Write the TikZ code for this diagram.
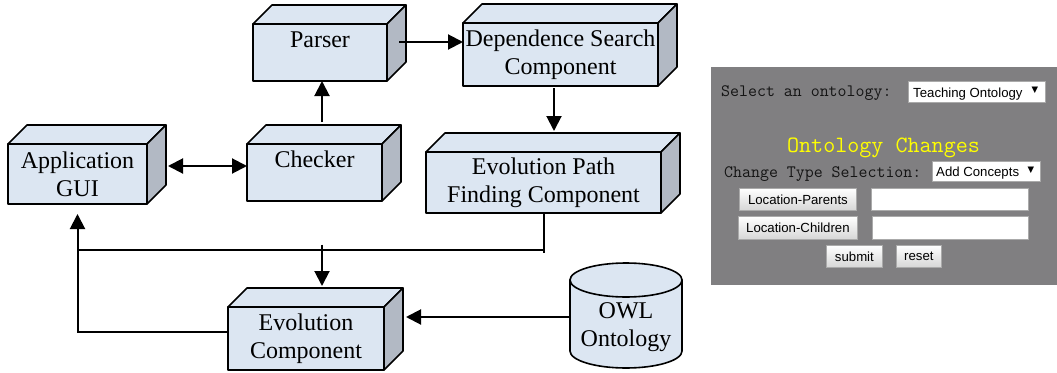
\documentclass[tikz,border=0pt]{standalone}
\usepackage{fontspec}
\setmainfont{Liberation Serif}
\newfontfamily\uisans{Liberation Sans}
\newfontfamily\uimono{Latin Modern Mono}
\newfontfamily\symfont{DejaVu Sans}
\usetikzlibrary{arrows.meta,calc}

\definecolor{boxfront}{RGB}{220,230,242}
\definecolor{boxside}{RGB}{178,185,196}
\definecolor{panelgray}{RGB}{128,127,129}
\definecolor{uitext}{RGB}{20,20,20}
\definecolor{uiyellow}{RGB}{255,255,0}
\definecolor{btnborder}{RGB}{170,170,170}

% draws the top and right faces of a 3D box around node #1
\newcommand\cubefaces[1]{%
  \filldraw[boxline, fill=boxfront] (#1.north west) -- ++(19,-19)
     -- ([shift={(19,-19)}]#1.north east) -- (#1.north east) -- cycle;
  \filldraw[boxline, fill=boxside] (#1.north east) -- ++(19,-19)
     -- ([shift={(19,-19)}]#1.south east) -- (#1.south east) -- cycle;
}

\begin{document}
\begin{tikzpicture}[x=1pt,y=-1pt,
  boxline/.style={line width=1.6pt, line join=round},
  box/.style={boxline, draw, fill=boxfront, align=center, inner sep=0pt,
    outer sep=0pt, font=\fontsize{24}{28}\selectfont},
  arr/.style={line width=2pt, -{Triangle[length=15pt,width=15pt]}},
  arrboth/.style={line width=2pt, {Triangle[length=15pt,width=15pt]}-{Triangle[length=15pt,width=15pt]}},
  wire/.style={line width=2pt},
  monotxt/.style={font=\uimono\fontsize{17.4}{19}\selectfont, text=uitext, inner sep=0pt},
  sanstxt/.style={font=\uisans\fontsize{13.2}{15}\selectfont, text=black, inner sep=0pt},
  dropdown/.style={draw=btnborder, line width=0.8pt, fill=white, inner sep=0pt, anchor=north west},
  field/.style={draw=btnborder, line width=0.8pt, fill=white, inner sep=0pt, anchor=north west},
  uibtn/.style={draw=btnborder, line width=0.8pt, top color=white, bottom color=white!84!black,
    sanstxt, anchor=north west},
  arrowglyph/.style={font=\symfont\fontsize{8.5}{10}\selectfont, text=black, inner sep=0pt}
]
\useasboundingbox (0,0) rectangle (1057,372);

% ---------- component boxes ----------
\node[box, minimum width=134pt, minimum height=57pt] (parser) at (320,52.5) {Parser\\[-10pt]\strut};
\node[box, minimum width=139pt, minimum height=60pt] (gui) at (77.5,174) {Application\\GUI};
\node[box, minimum width=135pt, minimum height=57pt] (checker) at (314.5,172.5) {Checker\\[-10pt]\strut};
\node[box, minimum width=195pt, minimum height=63pt] (dep) at (560.5,54.5) {Dependence Search\\Component};
\node[box, minimum width=235pt, minimum height=61pt] (path) at (543.5,182.5) {Evolution Path\\Finding Component};
\node[box, minimum width=156pt, minimum height=63pt] (evo) at (306,338.5) {Evolution\\Component};
\foreach \n in {parser,gui,checker,dep,path,evo} {\cubefaces{\n}}

% ---------- ontology store (cylinder) ----------
\coordinate (owlc) at (626,327.5);
\coordinate (owltop) at ($(owlc)+(0,-47.5)$);
\coordinate (owlbot) at ($(owlc)+(0,23.5)$);
\filldraw[boxline, fill=boxfront] ($(owltop)+(-56,0)$) -- ($(owlbot)+(-56,0)$)
   arc[start angle=180, end angle=0, x radius=56, y radius=17]
   -- ($(owltop)+(56,0)$) -- cycle;
\filldraw[boxline, fill=boxfront] (owltop) ellipse[x radius=56, y radius=17];
\node[align=center, inner sep=0pt, minimum width=112pt, outer sep=0pt,
      font=\fontsize{24}{28}\selectfont] (owl) at (owlc) {OWL\\Ontology};

% ---------- connectors ----------
\coordinate (pa) at ([xshift=12pt,yshift=10.5pt]parser.east);
\draw[arr] (pa) -- (pa -| dep.west);

\coordinate (ca) at ([xshift=7.5pt,yshift=22pt]checker.north);
\draw[arr] (ca) -- (ca |- parser.south);

\coordinate (ga) at ([yshift=6.5pt]checker.west);
\coordinate (gb) at ([xshift=21pt]gui.east);
\draw[arrboth] (gb |- ga) -- (ga);

\coordinate (da) at ([xshift=-6.5pt,yshift=-2pt]dep.south);
\coordinate (ptop) at ([yshift=21pt]path.north);
\draw[arr] (da) -- (da |- ptop);

\coordinate (j) at ([yshift=-36.5pt]path.south);
\draw[wire] (path.south) -- ([yshift=-3pt]j);
\draw[wire] (j) -- (j -| gui.south);

\coordinate (ea) at ([xshift=16pt,yshift=21pt]evo.north);
\coordinate (eb) at (ea |- j);
\draw[arr] ([yshift=5pt]eb) -- (ea);

\draw[arr] ([yshift=6.5pt]evo.west) -| ([yshift=-10pt]gui.south);

\coordinate (oa) at ([yshift=10.5pt]owl.west);
\coordinate (ob) at ([xshift=22pt]evo.east);
\draw[arr] (oa) -- (oa -| ob);

% ---------- ontology change form ----------
\node[fill=panelgray, inner sep=0pt, minimum width=346pt, minimum height=218pt,
      anchor=north west] (panel) at (711,67) {};

\node[monotxt, anchor=base west] (sellbl) at (721,96) {Select an ontology:};
\node[dropdown, minimum width=137pt, minimum height=21pt] (dd1) at (908,81) {};
\node[sanstxt, anchor=base west] (dd1txt) at (913,97) {Teaching Ontology};
\node[arrowglyph] (dd1arr) at (1035,90) {▼};

\node[monotxt, font=\uimono\fontsize{23.4}{26}\selectfont, text=uiyellow, anchor=base]
     (title) at (883.5,152) {Ontology Changes};

\node[monotxt, anchor=base west] (typelbl) at (724,177) {Change Type Selection:};
\node[dropdown, minimum width=108pt, minimum height=20pt] (dd2) at (932,161) {};
\node[sanstxt, anchor=base west] (dd2txt) at (936,176) {Add Concepts};
\node[arrowglyph] (dd2arr) at (1031,170) {▼};

\node[uibtn, minimum width=117pt, minimum height=22pt] (bparents) at (739,188) {Location-Parents};
\node[field, minimum width=157pt, minimum height=22pt] (fparents) at (871,188) {};
\node[uibtn, minimum width=119pt, minimum height=23pt] (bchildren) at (738,216) {Location-Children};
\node[field, minimum width=156pt, minimum height=23pt] (fchildren) at (872,216) {};
\node[uibtn, minimum width=56pt, minimum height=22pt] (bsubmit) at (826,245) {submit};
\node[uibtn, minimum width=45pt, minimum height=22pt] (breset) at (896,245) {reset};
\end{tikzpicture}
\end{document}
